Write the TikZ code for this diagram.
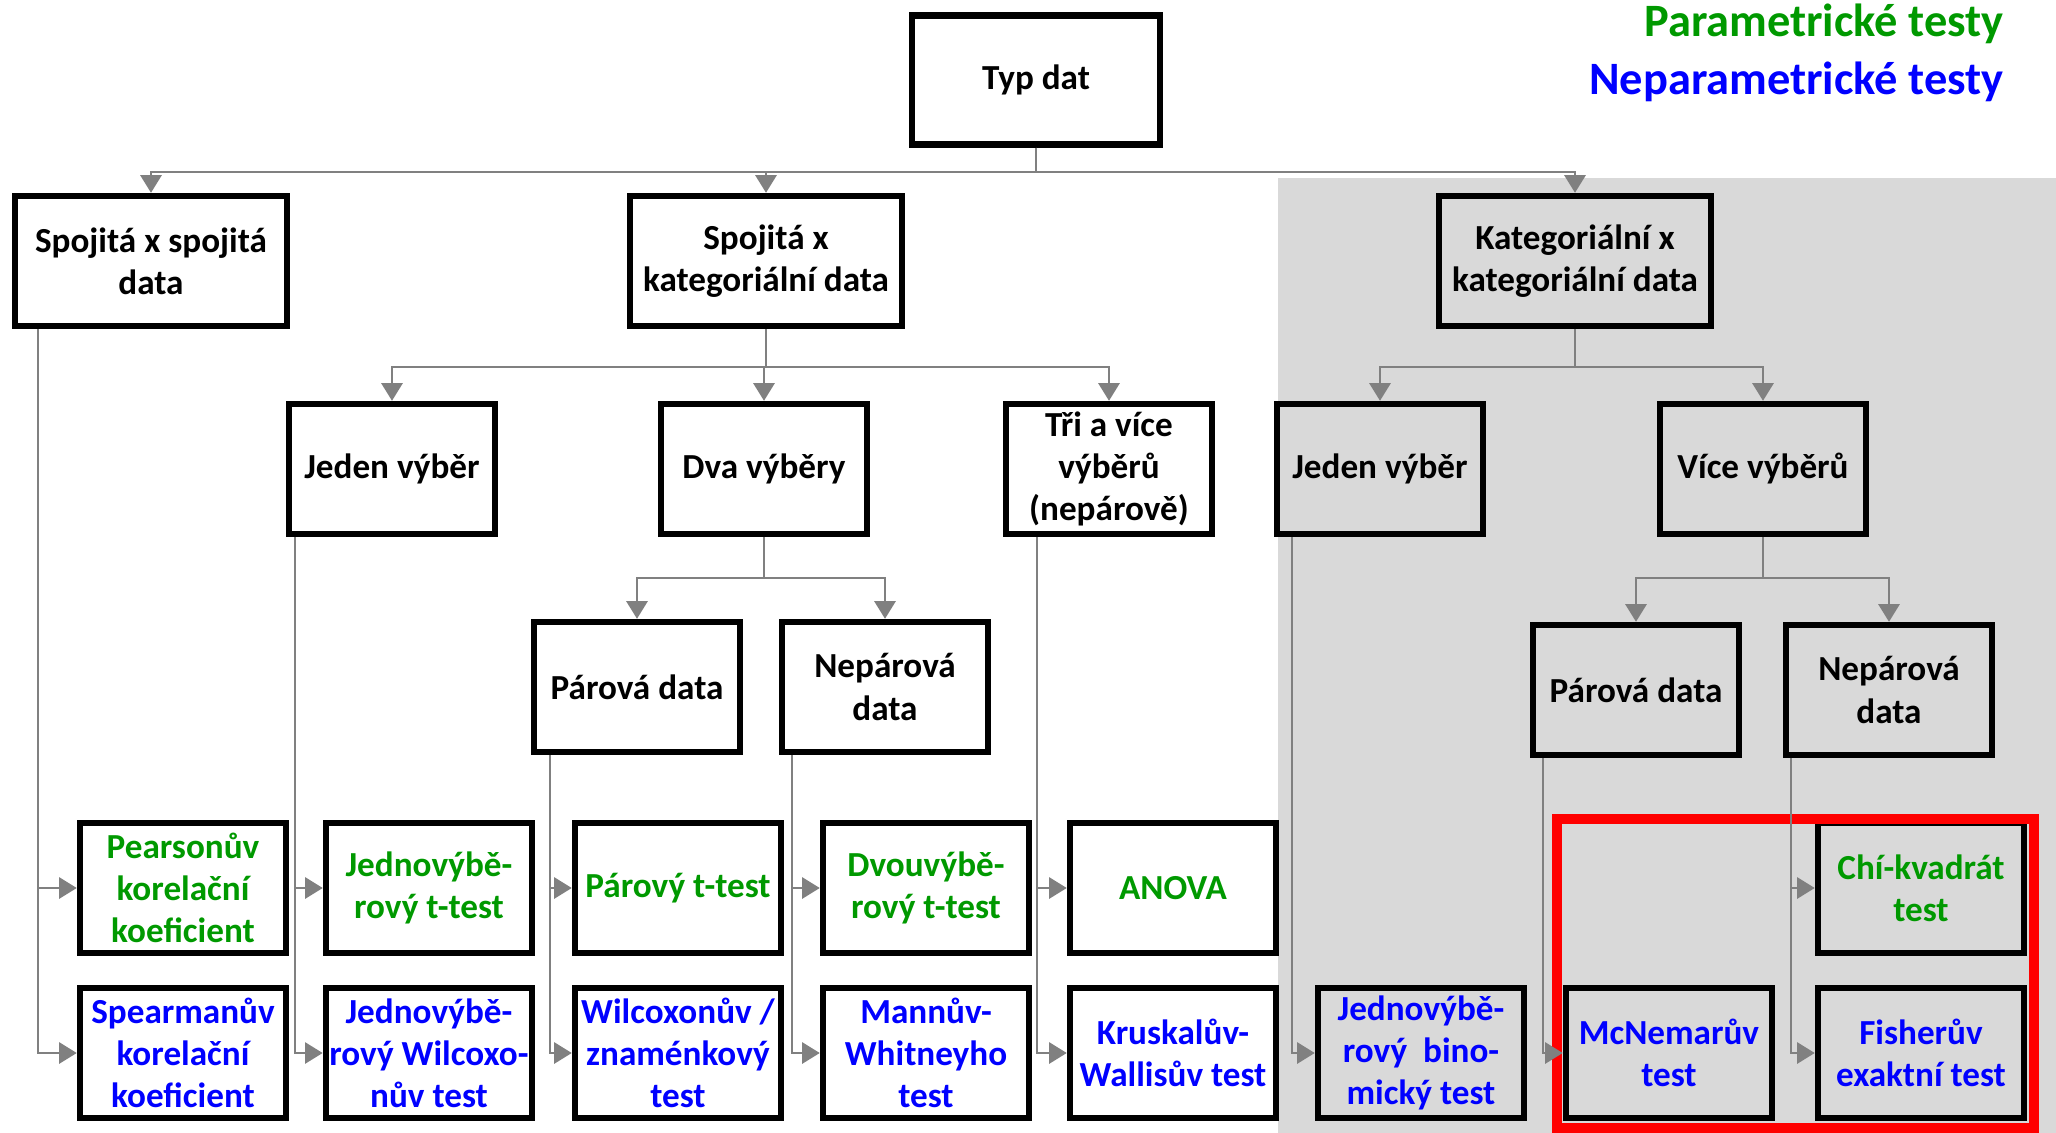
\documentclass[tikz,border=0pt]{standalone}
\usepackage{fontspec}
\setmainfont{Carlito}
\usepackage{tikz}
\usetikzlibrary{arrows.meta}
\definecolor{pargreen}{RGB}{0,153,0}
\definecolor{nepblue}{RGB}{0,0,255}
\definecolor{linegray}{RGB}{128,128,128}
\definecolor{bggray}{RGB}{217,217,217}
\tikzstyle{arrow} = [draw=linegray, line width=0.65pt, -{Triangle[length=5pt,width=6pt]}]
\tikzstyle{box} = [draw, line width=1.8pt, align=center, inner sep=1pt,
  font=\bfseries\fontsize{10}{12}\selectfont, minimum width=2.06cm, minimum height=1.3cm]
\tikzstyle{bigbox} = [box, minimum width=2.72cm]
\tikzstyle{partest} = [box, text=pargreen]
\tikzstyle{neptest} = [box, text=nepblue]

\begin{document}
\begin{tikzpicture}[x=0.01cm, y=-0.01cm]
  \useasboundingbox (0,0) rectangle (2056,1133);
  \fill[bggray] (1278,178) rectangle (2056,1133);

  % legenda
  \node[anchor=east, text=pargreen, font=\bfseries\fontsize{13.2}{15}\selectfont] (legpar) at (2016,24) {Parametrické testy};
  \node[anchor=east, text=nepblue, font=\bfseries\fontsize{13.2}{15}\selectfont] (legnep) at (2016,82) {Neparametrické testy};

  % typy dat
  \node[box, minimum width=2.48cm, minimum height=1.29cm] (typ) at (1036,80) {Typ dat};
  \node[bigbox] (spoj) at (151,261) {Spojitá x spojitá\\data};
  \node[bigbox] (spkat) at (766,261) {Spojitá x\\kategoriální data};
  \node[bigbox] (katkat) at (1575,261) {Kategoriální x\\kategoriální data};

  % pocet vyberu
  \node[box] (jed1) at (392,469) {Jeden výběr};
  \node[box] (dva) at (764,469) {Dva výběry};
  \node[box] (tri) at (1109,469) {Tři a více\\výběrů\\(nepárově)};
  \node[box] (jed2) at (1380,469) {Jeden výběr};
  \node[box] (vice) at (1763,469) {Více výběrů};

  % parovani
  \node[box] (par1) at (637,687) {Párová data};
  \node[box] (nep1) at (885,687) {Nepárová\\data};
  \node[box] (par2) at (1636,690) {Párová data};
  \node[box] (nep2) at (1889,690) {Nepárová\\data};

  % testy
  \node[partest] (pears) at (183,888) {Pearsonův\\korelační\\koeficient};
  \node[partest] (jttest) at (429,888) {Jednovýbě-\\rový t-test};
  \node[partest] (pttest) at (678,888) {Párový t-test};
  \node[partest] (dttest) at (926,888) {Dvouvýbě-\\rový t-test};
  \node[partest] (anova) at (1173,888) {ANOVA};
  \node[partest] (chi) at (1921,888) {Chí-kvadrát\\test};

  \node[neptest] (spear) at (183,1053) {Spearmanův\\korelační\\koeficient};
  \node[neptest] (jwilc) at (429,1053) {Jednovýbě-\\rový Wilcoxo-\\nův test};
  \node[neptest] (wilc) at (678,1053) {Wilcoxonův /\\znaménkový\\test};
  \node[neptest] (mann) at (926,1053) {Mannův-\\Whitneyho\\test};
  \node[neptest] (krus) at (1173,1053) {Kruskalův-\\Wallisův test};
  \node[neptest] (binom) at (1421,1053) {Jednovýbě-\\rový\ \ bino-\\mický test};
  \node[neptest] (mcnem) at (1669,1053) {McNemarův\\test};
  \node[neptest] (fish) at (1921,1053) {Fisherův\\exaktní test};

  \draw[red, line width=2.6pt] (1557,819) rectangle (2034,1128);

  % stromove spoje
  \draw[arrow] (typ.south) -- ++(0,24) -| (spoj.north);
  \draw[arrow] (typ.south) -- ++(0,24) -| (spkat.north);
  \draw[arrow] (typ.south) -- ++(0,24) -| (katkat.north);
  \draw[arrow] (spkat.south) -- ++(0,38) -| (jed1.north);
  \draw[arrow] (spkat.south) -- ++(0,38) -| (dva.north);
  \draw[arrow] (spkat.south) -- ++(0,38) -| (tri.north);
  \draw[arrow] (katkat.south) -- ++(0,38) -| (jed2.north);
  \draw[arrow] (katkat.south) -- ++(0,38) -| (vice.north);
  \draw[arrow] (dva.south) -- ++(0,41) -| (par1.north);
  \draw[arrow] (dva.south) -- ++(0,41) -| (nep1.north);
  \draw[arrow] (vice.south) -- ++(0,41) -| (par2.north);
  \draw[arrow] (vice.south) -- ++(0,41) -| (nep2.north);

  % prirazeni testu
  \draw[arrow] ([xshift=0.26cm]spoj.south west) |- (pears.west);
  \draw[arrow] ([xshift=0.26cm]spoj.south west) |- (spear.west);
  \draw[arrow] ([xshift=0.09cm]jed1.south west) |- (jttest.west);
  \draw[arrow] ([xshift=0.09cm]jed1.south west) |- (jwilc.west);
  \draw[arrow] ([xshift=0.19cm]par1.south west) |- (pttest.west);
  \draw[arrow] ([xshift=0.19cm]par1.south west) |- (wilc.west);
  \draw[arrow] ([xshift=0.13cm]nep1.south west) |- (dttest.west);
  \draw[arrow] ([xshift=0.13cm]nep1.south west) |- (mann.west);
  \draw[arrow] ([xshift=0.34cm]tri.south west) |- (anova.west);
  \draw[arrow] ([xshift=0.34cm]tri.south west) |- (krus.west);
  \draw[arrow] ([xshift=0.18cm]jed2.south west) |- (binom.west);
  \draw[arrow] ([xshift=0.13cm]par2.south west) |- (mcnem.west);
  \draw[arrow] ([xshift=0.08cm]nep2.south west) |- (chi.west);
  \draw[arrow] ([xshift=0.08cm]nep2.south west) |- (fish.west);
\end{tikzpicture}
\end{document}
